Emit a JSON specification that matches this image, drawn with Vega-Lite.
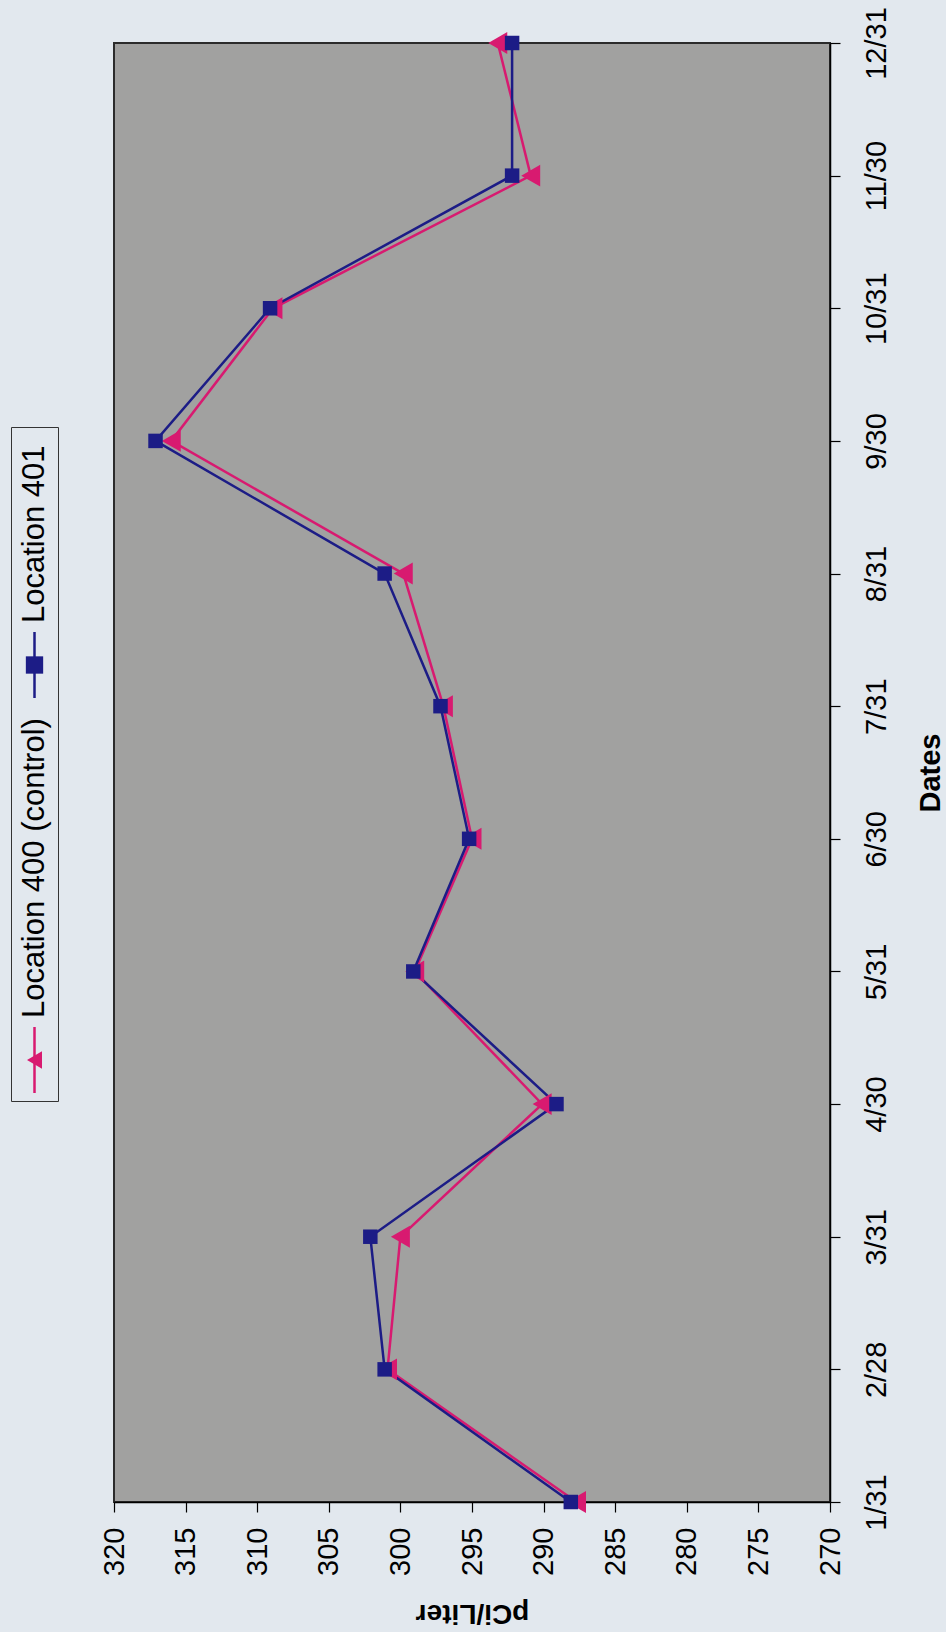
{
  "$schema": "https://vega.github.io/schema/vega-lite/v6.json",
  "padding": {"left": 10, "top": 5, "right": 9, "bottom": 11},
  "spacing": 40,
  "config": {
    "background": "#e2e8ee",
    "font": "Liberation Sans",
    "axis": {"domainColor": "#000000", "tickColor": "#000000", "labelColor": "#000000", "titleColor": "#000000", "grid": false, "domainWidth": 1.5, "tickWidth": 1.2, "labelOverlap": false, "labelFlush": false, "labelBound": false}
  },
  "hconcat": [
    {
      "spacing": 0,
      "vconcat": [
        {
          "width": 47,
          "height": 383,
          "view": {"stroke": null, "fill": null},
          "data": {"values": []},
          "mark": "point"
        },
        {
          "width": 47,
          "height": 674,
          "view": {"fill": "#e2e8ee", "stroke": "#333333", "strokeWidth": 1},
          "data": {"values": [{"series": "Location 400 (control)"}, {"series": "Location 401"}]},
          "encoding": {
            "y": {"field": "series", "type": "nominal", "scale": {"type": "point", "domain": ["Location 401", "Location 400 (control)"], "range": [238, 633], "padding": 0}, "axis": null},
            "color": {"field": "series", "type": "nominal", "scale": {"domain": ["Location 400 (control)", "Location 401"], "range": ["#d81a70", "#1c1c86"]}, "legend": null}
          },
          "layer": [
            {"mark": {"type": "tick", "orient": "vertical", "size": 66, "thickness": 2.5, "opacity": 1}},
            {"mark": {"type": "point", "filled": true, "opacity": 1, "size": 300},
             "encoding": {"shape": {"field": "series", "type": "nominal", "scale": {"domain": ["Location 400 (control)", "Location 401"], "range": ["triangle-left", "square"]}, "legend": null}}},
            {"mark": {"type": "text", "angle": 270, "align": "left", "baseline": "middle", "fontSize": 31, "yOffset": -42, "color": "#000000"},
             "encoding": {"text": {"field": "series", "type": "nominal"}, "color": {"value": "#000000"}}}
          ]
        }
      ]
    },
    {
      "width": 716,
      "height": 1459,
      "view": {"fill": "#a1a1a0", "stroke": "#2b2b2b", "strokeWidth": 2},
      "data": {"values": [
        {"date": "1/31", "series": "Location 400 (control)", "value": 287.7},
        {"date": "2/28", "series": "Location 400 (control)", "value": 300.9},
        {"date": "3/31", "series": "Location 400 (control)", "value": 300.0},
        {"date": "4/30", "series": "Location 400 (control)", "value": 290.1},
        {"date": "5/31", "series": "Location 400 (control)", "value": 299.0},
        {"date": "6/30", "series": "Location 400 (control)", "value": 295.0},
        {"date": "7/31", "series": "Location 400 (control)", "value": 297.0},
        {"date": "8/31", "series": "Location 400 (control)", "value": 299.8},
        {"date": "9/30", "series": "Location 400 (control)", "value": 316.0},
        {"date": "10/31", "series": "Location 400 (control)", "value": 308.9},
        {"date": "11/30", "series": "Location 400 (control)", "value": 290.9},
        {"date": "12/31", "series": "Location 400 (control)", "value": 293.2},
        {"date": "1/31", "series": "Location 401", "value": 288.1},
        {"date": "2/28", "series": "Location 401", "value": 301.1},
        {"date": "3/31", "series": "Location 401", "value": 302.1},
        {"date": "4/30", "series": "Location 401", "value": 289.1},
        {"date": "5/31", "series": "Location 401", "value": 299.1},
        {"date": "6/30", "series": "Location 401", "value": 295.2},
        {"date": "7/31", "series": "Location 401", "value": 297.2},
        {"date": "8/31", "series": "Location 401", "value": 301.1},
        {"date": "9/30", "series": "Location 401", "value": 317.1},
        {"date": "10/31", "series": "Location 401", "value": 309.1},
        {"date": "11/30", "series": "Location 401", "value": 292.2},
        {"date": "12/31", "series": "Location 401", "value": 292.2}
      ]},
      "encoding": {
        "x": {"field": "value", "type": "quantitative",
              "scale": {"domain": [270, 320], "reverse": true, "nice": false, "zero": false},
              "axis": {"orient": "bottom", "values": [270, 275, 280, 285, 290, 295, 300, 305, 310, 315, 320],
                       "labelAngle": 270, "labelAlign": "right", "labelBaseline": "middle", "labelFontSize": 29, "labelPadding": 15, "tickSize": 10,
                       "title": "pCi/Liter", "titleFontSize": 28, "titleFontWeight": "bold", "titleAngle": 180, "titleAlign": "center", "titleBaseline": "alphabetic", "titleX": 358, "titleY": 102}},
        "y": {"field": "date", "type": "ordinal",
              "sort": ["12/31", "11/30", "10/31", "9/30", "8/31", "7/31", "6/30", "5/31", "4/30", "3/31", "2/28", "1/31"],
              "scale": {"type": "point", "padding": 0},
              "axis": {"orient": "right", "labelAngle": 270, "labelAlign": "center", "labelBaseline": "top", "labelFontSize": 29, "labelPadding": 22, "tickSize": 10,
                       "title": "Dates", "titleFontSize": 29, "titleFontWeight": "bold", "titleAngle": 270, "titleAlign": "center", "titleBaseline": "alphabetic", "titleX": 109, "titleY": 729.5}},
        "color": {"field": "series", "type": "nominal", "scale": {"domain": ["Location 400 (control)", "Location 401"], "range": ["#d81a70", "#1c1c86"]}, "legend": null}
      },
      "layer": [
        {"transform": [{"filter": "datum.series === 'Location 400 (control)'"}], "mark": {"type": "line", "strokeWidth": 2.5}},
        {"transform": [{"filter": "datum.series === 'Location 401'"}], "mark": {"type": "line", "strokeWidth": 2.5}},
        {"transform": [{"filter": "datum.series === 'Location 400 (control)'"}], "mark": {"type": "point", "filled": true, "opacity": 1, "shape": "triangle-left", "size": 480}},
        {"transform": [{"filter": "datum.series === 'Location 401'"}], "mark": {"type": "point", "filled": true, "opacity": 1, "shape": "square", "size": 210}}
      ]
    }
  ]
}
